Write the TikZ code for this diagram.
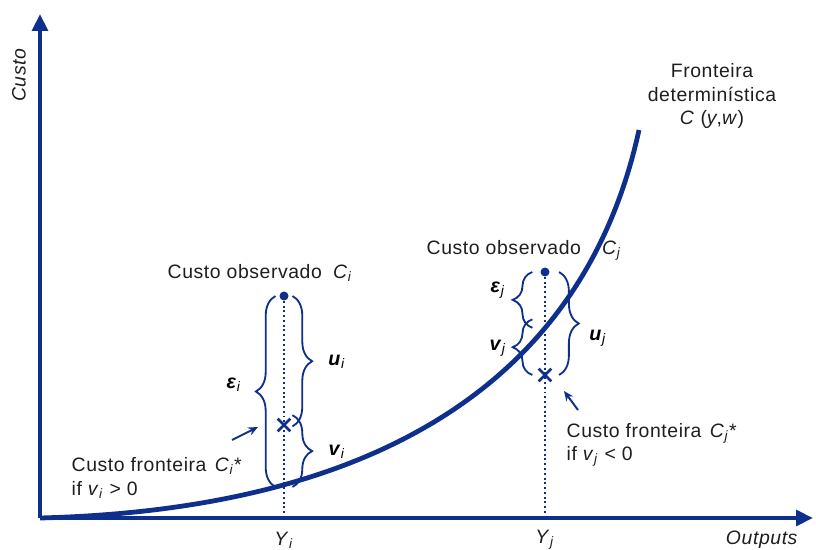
\documentclass[tikz,border=0pt]{standalone}
\usepackage{fontspec}
\setmainfont{Liberation Sans}[LetterSpace=3]
\usetikzlibrary{arrows.meta,decorations.pathreplacing,shapes.misc}
\definecolor{costblue}{RGB}{14,48,140}
\definecolor{labelgray}{RGB}{30,30,30}
\newcommand{\isub}[2]{\textit{#1}\textsubscript{\textit{#2}}}
\tikzset{
  axisline/.style={costblue, line width=3.4pt, -{Triangle[length=12pt,width=11pt]}},
  frontier/.style={costblue, line width=3.4pt},
  guide/.style={costblue, line width=1.4pt, dotted},
  gap/.style={costblue, line width=1.3pt, decorate, decoration={brace, amplitude=14pt}},
  pointer/.style={costblue, line width=1.4pt, -{Stealth[length=7pt,width=6pt]}},
  xmark/.style={cross out, draw=costblue, line width=2pt, minimum size=7pt, inner sep=0pt},
  txt/.style={labelgray, font=\fontsize{13.8}{16.5}\selectfont, inner sep=1pt},
  sym/.style={black, font=\fontsize{14}{16}\selectfont\bfseries, inner sep=1pt}
}
\begin{document}
\begin{tikzpicture}[x=0.025cm, y=-0.025cm]
        \useasboundingbox (0,0) rectangle (816,550);

        % Axes
        \coordinate (origin) at (40,518);
        \coordinate (ytop) at (40,14);
        \coordinate (xend) at (813,518);
        \draw[axisline] (origin) -- (ytop);
        \draw[axisline] (origin) -- (xend);
        \node[txt, rotate=90] (ylab) at (19,75) {\textit{Custo}};
        \node[txt] (xlab) at (762,540) {\textit{Outputs}};

        % Deterministic frontier
        \coordinate (fend) at (639,130);
        \draw[frontier] (origin) .. controls (350,510) and (580,400) .. (fend);
        \node[txt, align=center] (front) at (712,96) {Fronteira\\determinística\\\textit{C} (\textit{y},\textit{w})};

        % Firm i (above the frontier)
        \coordinate (obsi) at (284,296);
        \coordinate (crossi) at (284,425);
        \coordinate (curvei) at (284,487);
        \coordinate (basei) at (284,518);
        \draw[guide] (obsi) -- (basei);
        \fill[costblue] (obsi) circle (4.5);
        \node[xmark] (xi) at (crossi) {};
        \draw[gap] ([xshift=-6]curvei) -- ([xshift=-6]obsi);
        \draw[gap] ([xshift=6]obsi) -- ([xshift=6,yshift=-1]crossi);
        \draw[gap] ([xshift=6,yshift=7]crossi) -- ([xshift=6]curvei);
        \node[sym] (epsi) at (234,385) {\textit{ε}\textsubscript{\textit{\mdseries i}}};
        \node[sym] (ui) at (337,362) {\textit{u}\textsubscript{\textit{\mdseries i}}};
        \node[sym] (vi) at (337,452) {\textit{v}\textsubscript{\textit{\mdseries i}}};
        \node[txt] (obsilab) at (260,273) {Custo observado\hspace{8pt}\isub{C}{i}};
        \node[txt, align=left, anchor=west] (fronti) at (70,478) {Custo fronteira\hspace{6pt}\isub{C}{i}*\\if \isub{v}{i} > 0};
        \coordinate (ptri) at (232,440);
        \coordinate (ptritip) at (258,427);
        \draw[pointer] (ptri) -- (ptritip);
        \node[txt] (yi) at (284,540) {\isub{Y}{i}};

        % Firm j (below the frontier)
        \coordinate (obsj) at (545,272);
        \coordinate (curvej) at (545,325);
        \coordinate (crossj) at (545,375);
        \coordinate (basej) at (545,518);
        \draw[guide] (obsj) -- (basej);
        \fill[costblue] (obsj) circle (4.5);
        \node[xmark] (xj) at (crossj) {};
        \draw[gap] ([xshift=-9,yshift=-2]curvej) -- ([xshift=-9]obsj);
        \draw[gap] ([xshift=-9]crossj) -- ([xshift=-9,yshift=4]curvej);
        \draw[gap] ([xshift=10]obsj) -- ([xshift=10]crossj);
        \node[sym] (epsj) at (498,290) {\textit{ε}\textsubscript{\textit{\mdseries j}}};
        \node[sym] (vj) at (498,348) {\textit{v}\textsubscript{\textit{\mdseries j}}};
        \node[sym] (uj) at (598,338) {\textit{u}\textsubscript{\textit{\mdseries j}}};
        \node[txt] (obsjlab) at (524,250) {Custo observado\hspace{15pt}\isub{C}{j}};
        \node[txt, align=left, anchor=west] (frontj) at (565,445) {Custo fronteira\hspace{6pt}\isub{C}{j}*\\if \isub{v}{j} < 0};
        \coordinate (ptrj) at (578,410);
        \coordinate (ptrjtip) at (564,391);
        \draw[pointer] (ptrj) -- (ptrjtip);
        \node[txt] (yj) at (545,540) {\isub{Y}{j}};
\end{tikzpicture}
\end{document}
